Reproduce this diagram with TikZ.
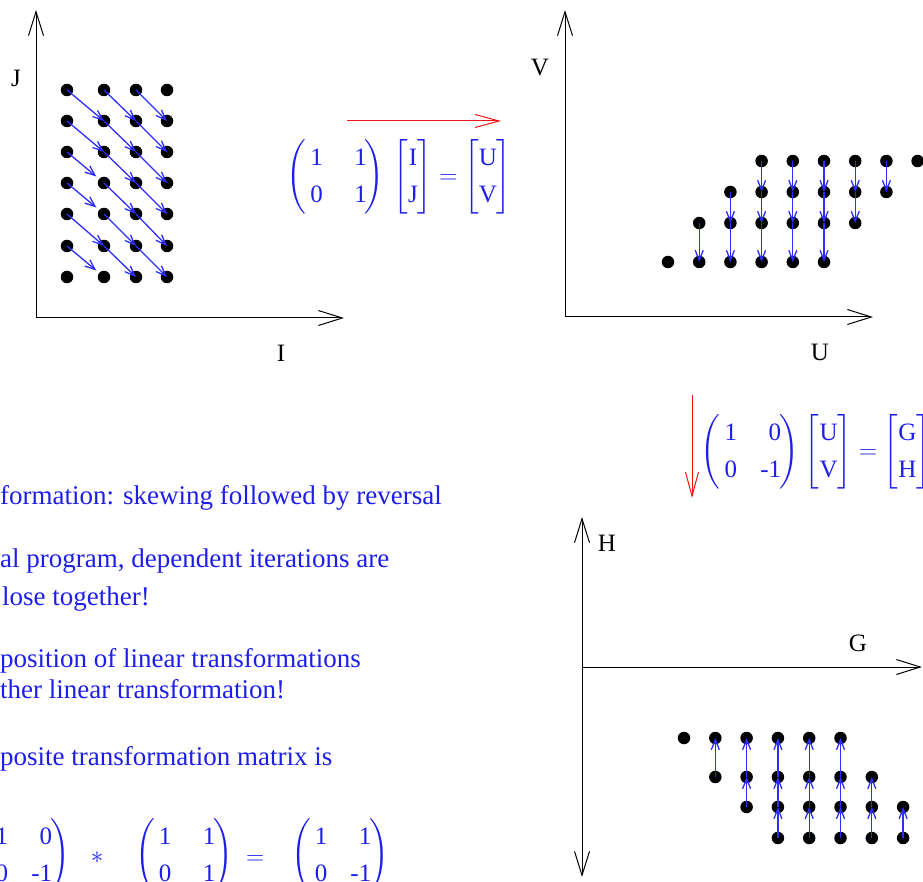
\RequirePackage{fix-cm}
\documentclass[tikz,border=0pt]{standalone}
\usepackage{amsmath}
\usepackage{fontspec}
\setmainfont{Liberation Serif}
\usepackage{tikz}
\usetikzlibrary{
  arrows.meta,
  positioning
}
\definecolor{inkblue}{RGB}{30,30,235}
\definecolor{arrowblue}{RGB}{45,45,255}
\definecolor{inkred}{RGB}{240,20,20}
\renewcommand{\arraystretch}{1.23}
\newcommand{\parenmat}[4]{\left(\begin{array}{@{\hspace{4pt}}c@{\hspace{20pt}}r@{\hspace{-2pt}}}\text{#1}&\makebox[24pt][r]{#2}\\\text{#3}&\makebox[24pt][r]{#4}\end{array}\right)}
\newcommand{\brackvec}[2]{\left[\begin{array}{@{\hspace{0pt}}c@{\hspace{0pt}}}\text{#1}\\\text{#2}\end{array}\right]}

\begin{document}
\begin{tikzpicture}[
    x=1pt, y=-1pt,
    pt/.style={circle, fill=black, inner sep=0pt, minimum size=12.5pt},
    axis/.style={draw=black, line width=1pt, -{Straight Barb[length=24pt,width=15pt]}},
    lbl/.style={font=\fontsize{25}{30}\selectfont, text=black, inner sep=0pt},
    dep/.style={draw=arrowblue, line width=1.3pt, -{Straight Barb[length=10pt,width=8pt]}},
    xform/.style={draw=inkred, line width=1pt, -{Straight Barb[length=24pt,width=13pt]}},
    eqn/.style={text=inkblue, font=\fontsize{25}{30}\selectfont, inner sep=0pt},
    note/.style={text=inkblue, font=\fontsize{27}{32}\selectfont, anchor=base west, inner sep=0pt}
  ]
  \useasboundingbox (0,0) rectangle (923,882);

  % original iteration space (I,J)
  \coordinate (o1) at (36,318);
  \coordinate (j1) at (36,10);
  \coordinate (i1) at (344,318);
  \draw[axis] (o1) -- (j1);
  \draw[axis] (o1) -- (i1);
  \node[lbl] (lj) at (16,78) {J};
  \node[lbl] (li) at (281,353) {I};
  \foreach \c/\x in {0/67,1/104,2/136,3/167}
    \foreach \r/\y in {0/90,1/121,2/152,3/183,4/214,5/246,6/277}
      \node[pt] (a-\c-\r) at (\x,\y) {};
  \foreach \c in {1,2}
    \foreach \r in {0,...,5} {
      \pgfmathtruncatemacro{\ci}{\c+1}
      \pgfmathtruncatemacro{\ri}{\r+1}
      \draw[dep] (a-\c-\r.center) -- (a-\ci-\ri.center);
    }
  \draw[dep] (a-0-0.center) -- (a-1-1.center);
  \draw[dep] (a-0-1.center) -- (a-1-2.center);
  \draw[dep, shorten >=10pt] (a-0-2.center) -- (a-1-3.center);
  \draw[dep, shorten >=10pt] (a-0-3.center) -- (a-1-4.center);
  \draw[dep] (a-0-4.center) -- (a-1-5.center);
  \draw[dep, shorten >=10pt] (a-0-5.center) -- (a-1-6.center);

  % skewing
  \coordinate (s1) at (347,121);
  \coordinate (s2) at (501,121);
  \draw[xform] (s1) -- (s2);
  \node[eqn] (skew) at (399,177) {$\parenmat{1}{1}{0}{1}\hspace{5pt}\brackvec{I}{J}=\brackvec{U}{V}$};

  % skewed space (U,V)
  \coordinate (o2) at (565,317);
  \coordinate (v2) at (565,10);
  \coordinate (u2) at (873,317);
  \draw[axis] (o2) -- (v2);
  \draw[axis] (o2) -- (u2);
  \node[lbl] (lv) at (540,68) {V};
  \node[lbl] (lu) at (820,352) {U};
  \foreach \v/\y in {0/262,1/223,2/192,3/161}
    \foreach \k in {0,...,5} {
      \pgfmathtruncatemacro{\u}{\v+\k}
      \node[pt] (b-\u-\v) at ({668+31.2*\u},\y) {};
    }
  \foreach \v in {1,2,3}
    \foreach \k in {0,...,4} {
      \pgfmathtruncatemacro{\u}{\v+\k}
      \pgfmathtruncatemacro{\vp}{\v-1}
      \draw[dep] (b-\u-\v.center) -- (b-\u-\vp.center);
    }

  % reversal
  \coordinate (t1) at (692,395);
  \coordinate (t2) at (692,498);
  \draw[xform] (t1) -- (t2);
  \node[eqn] (rev) at (816,452) {$\parenmat{1}{0}{0}{-1}\hspace{2pt}\brackvec{U}{V}=\brackvec{G}{H}$};

  % final space (G,H)
  \coordinate (hb) at (582,877);
  \coordinate (ht) at (582,517);
  \coordinate (o3) at (582,667);
  \coordinate (g3) at (922,667);
  \draw[axis, {Straight Barb[length=24pt,width=15pt]}-{Straight Barb[length=24pt,width=15pt]}] (hb) -- (ht);
  \draw[axis] (o3) -- (g3);
  \node[lbl] (lh) at (607,543) {H};
  \node[lbl] (lg) at (858,643) {G};
  \foreach \r/\y/\n in {0/738/5,1/777/5,2/807/5,3/838/4}
    \foreach \k in {0,...,\n} {
      \pgfmathtruncatemacro{\u}{\r+\k}
      \node[pt] (c-\u-\r) at ({684+31.3*\u},\y) {};
    }
  \foreach \r in {0,1,2}
    \foreach \k in {1,...,5} {
      \pgfmathtruncatemacro{\u}{\r+\k}
      \pgfmathtruncatemacro{\rn}{\r+1}
      \draw[dep] (c-\u-\rn.center) -- (c-\u-\r.center);
    }

  % notes
  \node[note] (n1) at (0,504) {formation: skewing followed by reversal};
  \node[note] (n2) at (0,567) {al program, dependent iterations are};
  \node[note] (n3) at (2,605) {lose together!};
  \node[note] (n4) at (0,667) {position of linear transformations};
  \node[note] (n5) at (0,698) {ther linear transformation!};
  \node[note] (n6) at (0,765) {posite transformation matrix is};

  % composite matrix
  \node[eqn, anchor=east] (ma) at (70,856) {$\parenmat{1}{0}{0}{-1}$};
  \node[eqn] (star) at (97,858) {$*$};
  \node[eqn] (mb) at (184,856) {$\parenmat{1}{1}{0}{1}$};
  \node[eqn] (eqs) at (255,860) {$=$};
  \node[eqn] (mc) at (340,856) {$\parenmat{1}{1}{0}{-1}$};
\end{tikzpicture}
\end{document}
